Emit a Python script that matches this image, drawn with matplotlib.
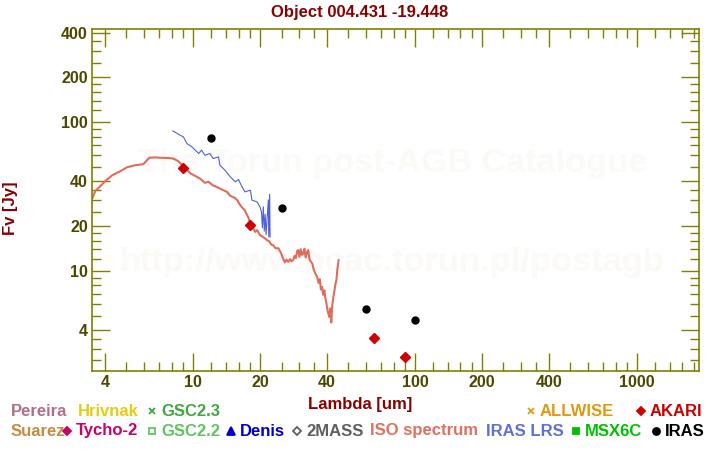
import matplotlib
matplotlib.use('Agg')
import matplotlib.pyplot as plt
from matplotlib.lines import Line2D
from matplotlib.ticker import FixedLocator, NullFormatter

# ---- data ----
title = 'Object 004.431 -19.448'

# ISO spectrum (wavelength [um], flux [Jy])
iso_wave = [3.51, 3.62, 3.81, 4.06, 4.32, 4.69, 5.04, 5.48, 5.96, 6.34, 6.7, 7.10,
            7.64, 8.13, 8.56, 9.02, 9.69, 10.4, 10.8, 11.3, 11.7, 12.3, 12.6, 13.2,
            13.6, 14.2, 14.6, 15.0, 15.4, 15.8, 16.2, 16.6, 17.0, 17.5, 17.8, 18.1,
            18.5, 19.0, 19.4, 20.0, 20.5, 21.0, 21.5, 22.0, 22.5, 22.9, 23.5, 24.2,
            24.8, 25.4, 25.9, 26.3, 26.8, 27.3, 27.7, 28.2, 28.6, 29.0, 29.4, 29.7,
            30.1, 30.5, 30.9, 31.3, 31.7, 32.1, 32.6, 33.0, 33.4, 33.8, 34.4, 34.9,
            35.5, 36.2, 36.7, 37.2, 37.6, 38.1, 38.5, 39.0, 39.3, 39.8, 40.3, 40.6,
            41.0, 41.4, 41.9, 42.3, 42.8, 43.2, 43.7, 44.2, 44.6, 45.2]
iso_flux = [30.8, 34.4, 37.1, 40.8, 44.0, 46.8, 49.8, 51.4, 52.2, 57.7, 58.0, 57.7,
            57.5, 57.0, 54.7, 50.6, 45.4, 42.9, 41.5, 39.1, 39.8, 37.5, 37.0, 35.8,
            35.0, 34.0, 32.2, 31.5, 31.0, 29.9, 28.0, 26.7, 25.8, 23.7, 22.5, 20.5,
            19.8, 18.3, 18.8, 17.4, 17.0, 16.6, 16.1, 15.8, 15.0, 14.9, 14.2, 14.2,
            13.3, 12.1, 11.4, 11.9, 11.5, 12.0, 11.6, 11.8, 12.6, 12.2, 13.6, 13.8,
            12.4, 14.0, 12.8, 13.1, 14.1, 12.3, 13.4, 13.8, 12.0, 11.6, 11.2, 10.2,
            9.6, 9.1, 8.3, 8.8, 7.5, 7.8, 6.9, 7.4, 6.7, 6.1, 5.4, 5.2,
            4.9, 5.6, 4.5, 5.8, 6.7, 7.2, 8.1, 8.7, 10.2, 11.8]

# IRAS LRS spectrum
lrs_wave = [8.10, 8.59, 9.04, 9.37, 9.87, 10.2, 10.6, 10.9, 11.3, 11.9, 12.3, 13.0,
            13.2, 13.9, 14.7, 15.5, 16.0, 16.6, 17.1, 18.1, 18.4, 19.4, 20.0, 20.3,
            20.5, 20.7, 20.9, 21.1, 21.3, 21.5, 21.8, 21.9, 22.1, 22.2]
lrs_flux = [87.4, 83.0, 79.6, 71.9, 68.3, 64.9, 61.6, 64.9, 59.9, 61.6, 57.0, 58.5,
            51.4, 47.6, 42.9, 39.7, 41.2, 36.7, 34.0, 34.9, 29.9, 29.1, 26.9, 25.0,
            19.5, 27.0, 18.5, 24.0, 17.5, 22.0, 30.0, 17.0, 32.8, 16.9]

# photometry
iras_wave = [12, 25, 60, 100]
iras_flux = [78.0, 26.4, 5.5, 4.64]
akari_wave = [9.0, 18.1, 65, 90]
akari_flux = [49.0, 20.3, 3.51, 2.62]

# axis ticks
x_major = [4, 10, 20, 40, 100, 200, 400, 1000]
x_minor = [5, 6, 7, 8, 9, 12, 14, 16, 18, 25, 30, 35, 50, 60, 70, 80, 90,
           120, 140, 160, 180, 250, 300, 350, 500, 600, 700, 800, 900,
           1200, 1400, 1600, 1800]
y_major = [4, 10, 20, 40, 100, 200, 400]
y_minor = [2.5, 3, 3.5, 5, 6, 7, 8, 9, 12, 14, 16, 18, 25, 30, 35,
           50, 60, 70, 80, 90, 120, 140, 160, 180, 250, 300, 350]

# legend entries: (text, colour, marker, left edge px, row)
legend_items = [
    ('Pereira', '#b07088', None, 11, 0),
    ('Hrivnak', '#e6cc10', None, 78, 0),
    ('GSC2.3', '#40a840', 'x', 161, 0),
    ('ALLWISE', '#e09a10', 'x', 540, 0),
    ('AKARI', '#cc0000', 'D', 650, 0),
    ('Suarez', '#c48c40', None, 11, 1),
    ('Tycho-2', '#cc0066', 'D', 76, 1),
    ('GSC2.2', '#60c460', 's', 161, 1),
    ('Denis', '#0000cc', '^', 240, 1),
    ('2MASS', '#606060', 'D', 306, 1),
    ('ISO spectrum', '#e07060', None, 370, 1),
    ('IRAS LRS', '#6070d8', None, 486, 1),
    ('MSX6C', '#00c000', 's', 585, 1),
    ('IRAS', '#000000', 'o', 665, 1),
]

W, H = 720, 450
olive = '#808000'
label_col = '#4d4800'
dark_red = '#880000'
font = 'Liberation Sans'

fig = plt.figure(figsize=(7.2, 4.5), dpi=100)
ax = fig.add_axes([92 / W, 1 - 371 / H, (699 - 92) / W, (371 - 29.3) / H])

# watermark
ax.text(0.495, 0.606, 'The Torun post-AGB Catalogue', transform=ax.transAxes,
        ha='center', va='center', fontsize=24.7, fontweight='bold',
        family=font, color='#fcfaf7', zorder=0)
ax.text(0.494, 0.318, 'http://www.ncac.torun.pl/postagb', transform=ax.transAxes,
        ha='center', va='center', fontsize=24.8, fontweight='bold',
        family=font, color='#fcfaf7', zorder=0)

ax.plot(iso_wave, iso_flux, color='#e06c5a', lw=1.5, zorder=2)
ax.plot(lrs_wave, lrs_flux, color='#5060d8', lw=0.8, zorder=3)
ax.plot(iras_wave, iras_flux, 'o', color='black', ms=5, zorder=4)
ax.plot(akari_wave, akari_flux, 'D', color='#cc0000', ms=5, zorder=4)

ax.set_xscale('log')
ax.set_yscale('log')
ax.set_xlim(3.5, 1900)
ax.set_ylim(2.12, 422)

ax.xaxis.set_major_locator(FixedLocator(x_major))
ax.xaxis.set_minor_locator(FixedLocator(x_minor))
ax.yaxis.set_major_locator(FixedLocator(y_major))
ax.yaxis.set_minor_locator(FixedLocator(y_minor))
ax.set_xticklabels([str(v) for v in x_major])
ax.set_yticklabels([str(v) for v in y_major])
ax.xaxis.set_minor_formatter(NullFormatter())
ax.yaxis.set_minor_formatter(NullFormatter())

ax.tick_params(which='both', direction='in', top=True, right=True, color=olive, width=1)
ax.tick_params(which='major', length=13, pad=3, labelsize=11.5, labelcolor=label_col)
ax.tick_params(which='minor', length=6.5)
for lab in ax.get_xticklabels() + ax.get_yticklabels():
    lab.set_fontweight('bold')
    lab.set_family(font)
for sp in ax.spines.values():
    sp.set_color(olive)
    sp.set_linewidth(1.2)

# titles and axis labels
fig.text(360 / W, 1 - 12 / H, title, ha='center', va='center', fontsize=12,
         fontweight='bold', family=font, color=dark_red)
fig.text(360 / W, 1 - 404 / H, 'Lambda [um]', ha='center', va='center', fontsize=12,
         fontweight='bold', family=font, color=dark_red)
fig.text(10 / W, 1 - 208 / H, 'Fv [Jy]', ha='center', va='center', fontsize=12,
         fontweight='bold', family=font, color=dark_red, rotation=90)

# legend written as coloured text with small markers
row_y = [411, 431]
marker_size = {'x': 5, 'D': 4.5, 's': 4.5, '^': 5.5, 'o': 5}
for text, col, mk, x0, row in legend_items:
    y = 1 - row_y[row] / H
    fig.text(x0 / W, y, text, ha='left', va='center', fontsize=12,
             fontweight='bold', family=font, color=col)
    if mk is not None:
        mx = (x0 - 9) / W
        face = col
        if text in ('GSC2.2', '2MASS'):
            face = 'none'
        fig.add_artist(Line2D([mx], [y], transform=fig.transFigure, marker=mk,
                              ms=marker_size[mk], color=col, mfc=face, mew=1.3,
                              linestyle='none'))

fig.savefig('out.png', dpi=100, facecolor='white')
